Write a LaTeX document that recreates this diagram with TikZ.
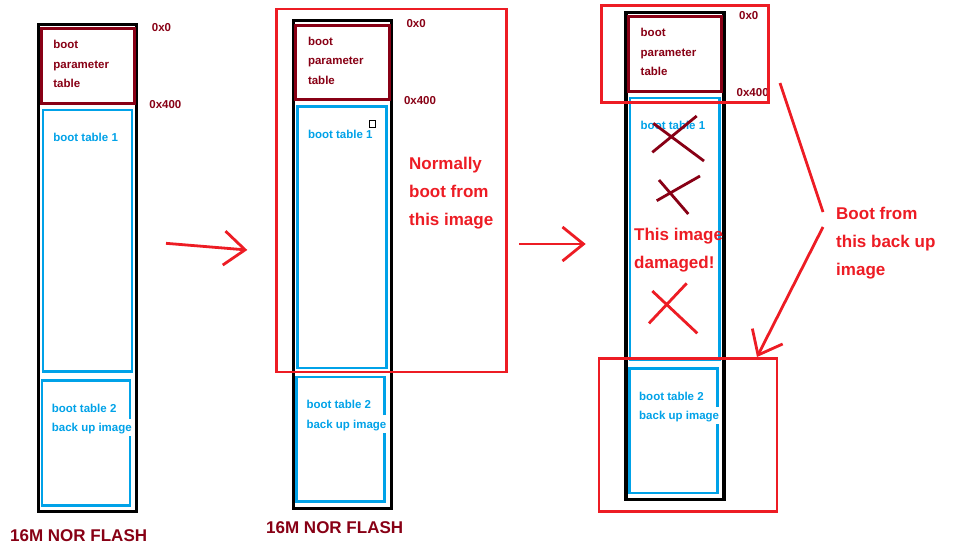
\documentclass[tikz,border=0pt]{standalone}
\usepackage{fontspec}
\setmainfont{Liberation Sans}
\usetikzlibrary{positioning,arrows.meta}
\definecolor{paintred}{HTML}{ED1C24}
\definecolor{paintmaroon}{HTML}{880015}
\definecolor{paintblue}{HTML}{00A2E8}
\tikzset{
  chipbox/.style={draw=black,line width=3.3pt},
  parambox/.style={draw=paintmaroon,line width=3pt},
  tablebox/.style={draw=paintblue,line width=2.5pt},
  hilite/.style={draw=paintred,line width=2.6pt},
  smalltxt/.style={font=\bfseries\fontsize{11.5}{19.5}\selectfont,inner sep=0pt,
                   anchor=north west,align=left},
  bigtxt/.style={font=\bfseries\fontsize{17}{28}\selectfont,inner sep=0pt,
                 anchor=north west,align=left,text=paintred},
  paintarrow/.style={draw=paintred,line width=2.8pt,-{Straight Barb[length=21pt,width=34pt]}},
  scratch/.style={line width=2.8pt},
}
% one flash column: name, x, y of the chip's top left corner (pixels)
\newcommand{\norflash}[3]{%
  \begin{scope}[shift={(#2,#3)}]
    \draw[chipbox] (0,0) rectangle (98,487.5);
    \draw[parambox] (2.5,4.3) rectangle (95.7,79);
    \draw[tablebox] (4.2,85.7) rectangle (93.3,347.1);
    \draw[tablebox] (91.3,394.4) -- (91.3,356.1) -- (3.3,356.1) -- (3.3,481)
      -- (91.3,481) -- (91.3,412);
    \node[smalltxt,text=paintmaroon] (#1-param) at (14.5,16) {boot\\parameter\\table};
    \node[smalltxt,text=paintblue] (#1-tab1) at (14.5,109) {boot table 1};
    \node[smalltxt,text=paintblue] (#1-tab2) at (13,379.5) {boot table 2\\back up image};
    \node[smalltxt,text=paintmaroon] (#1-top) at (113,-1) {0x0};
    \node[smalltxt,text=paintmaroon] (#1-off) at (110.5,76) {0x400};
  \end{scope}}

\begin{document}
\begin{tikzpicture}[x=1pt,y=-1pt]
  \fill[white] (0,0) rectangle (961,550);
  \useasboundingbox (0,0) rectangle (961,550);

  % the three flash columns
  \norflash{left}{38.7}{24.3}
  \norflash{mid}{293.3}{20.7}
  \norflash{right}{626}{12.2}
  \draw[black,line width=1pt] (369,120.8) rectangle (375.5,127.2);

  \node[bigtxt,text=paintmaroon] (left-name) at (10,529) {16M NOR FLASH};
  \node[bigtxt,text=paintmaroon] (mid-name) at (266,521) {16M NOR FLASH};

  % highlights
  \draw[hilite] (276.2,8.8) rectangle (506.2,372);
  \draw[hilite] (601.2,5.5) rectangle (768.7,102.3);
  \draw[hilite] (598.8,358.7) rectangle (777,511.3);

  \node[bigtxt] (normal) at (409,156.7) {Normally\\boot from\\this image};
  \node[bigtxt] (damaged) at (634,228.3) {This image\\damaged!};
  \node[bigtxt] (backup) at (836,206.7) {Boot from\\this back up\\image};

  % crossed out table
  \draw[scratch,paintmaroon] (652.3,152.3) -- (696.7,116) (653.3,123.3) -- (704,161);
  \draw[scratch,paintmaroon] (656.7,200.7) -- (700,176) (659,180) -- (688.3,214);
  \draw[scratch,paintred] (649,323.3) -- (686.7,283.3) (652.3,291) -- (697.3,333.3);

  % arrows
  \coordinate (go1) at (166,243.3);
  \coordinate (to1) at (247.3,250);
  \coordinate (go2) at (519,244);
  \coordinate (to2) at (585.7,244);
  \draw[paintarrow] (go1) -- (to1);
  \draw[paintarrow] (go2) -- (to2);
  \coordinate (hint1) at (780,83);
  \coordinate (hint2) at (823,212);
  \coordinate (go3) at (823,227);
  \coordinate (to3) at (757,357);
  \draw[paintred,line width=2.8pt] (hint1) -- (hint2);
  \draw[paintarrow] (go3) -- (to3);
\end{tikzpicture}
\end{document}
